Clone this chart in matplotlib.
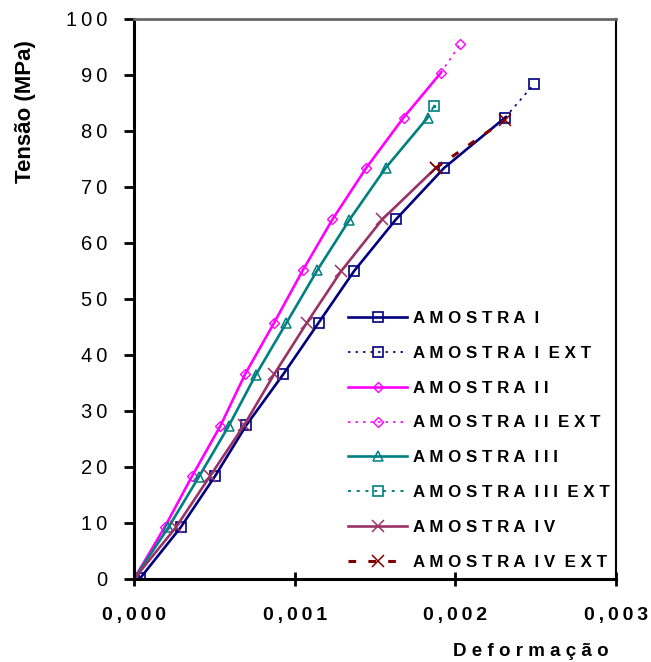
import matplotlib
matplotlib.use("Agg")
import matplotlib.pyplot as plt

plt.rcParams['font.family'] = ['Liberation Sans', 'DejaVu Sans']

# tensão (MPa) por amostra, deformação
am1_x = [0.0, 0.00004, 0.00029, 0.000505, 0.0007, 0.00093, 0.00115, 0.00137, 0.00163, 0.00193, 0.00231]
am1_y = [0.0, 0.2, 9.2, 18.4, 27.5, 36.6, 45.8, 55.0, 64.2, 73.4, 82.4]
am1_ext_x = [0.00231, 0.00249]
am1_ext_y = [82.4, 88.4]

am2_x = [0.0, 0.00019, 0.000362, 0.000537, 0.000692, 0.000873, 0.00105, 0.001235, 0.001445, 0.001678, 0.00191]
am2_y = [0.0, 9.2, 18.4, 27.3, 36.6, 45.8, 55.1, 64.2, 73.4, 82.4, 90.4]
am2_ext_x = [0.00191, 0.00203]
am2_ext_y = [90.4, 95.5]

am3_x = [0.0, 0.000214, 0.000405, 0.000589, 0.000757, 0.000948, 0.00114, 0.00134, 0.001566, 0.001828]
am3_y = [0.0, 9.2, 18.3, 27.3, 36.4, 45.7, 55.1, 64.1, 73.4, 82.4]
am3_ext_x = [0.001828, 0.001867]
am3_ext_y = [82.4, 84.5]

am4_x = [0.0, 0.00026, 0.000474, 0.000686, 0.000873, 0.001077, 0.00129, 0.001545, 0.001878]
am4_y = [0.0, 9.2, 18.4, 27.5, 36.6, 45.8, 55.0, 64.2, 73.4]
am4_ext_x = [0.001878, 0.00231]
am4_ext_y = [73.4, 82.0]

labels = ["AMOSTRA I", "AMOSTRA I EXT", "AMOSTRA II", "AMOSTRA II EXT",
          "AMOSTRA III", "AMOSTRA III EXT", "AMOSTRA IV", "AMOSTRA IV EXT"]
x_ticks = [0.0, 0.001, 0.002, 0.003]
x_tick_labels = ["0,000", "0,001", "0,002", "0,003"]
y_ticks = [0, 10, 20, 30, 40, 50, 60, 70, 80, 90, 100]


def spaced(s, sep=" "):
    # espaçamento entre letras, como no Excel
    return "  ".join(sep.join(w) for w in s.split(" "))


fig = plt.figure(figsize=(6.51, 6.62), dpi=100)
ax = fig.add_axes([134 / 651, 83 / 662, 482 / 651, 560 / 662])

navy = "#000080"
mag = "#FF00FF"
teal = "#008080"
mauve = "#993366"
dred = "#800000"

ax.plot(am1_x, am1_y, color=navy, lw=1.9, marker="s", ms=7, mfc="none", mec=navy, mew=1.2, label=spaced(labels[0]))
ax.plot(am1_ext_x, am1_ext_y, color=navy, lw=1.2, ls=(0, (1.5, 3)), marker="s", ms=7, mfc="none", mec=navy,
        mew=1.2, markevery=[1], label=spaced(labels[1]))
ax.plot(am2_x, am2_y, color=mag, lw=1.9, marker="D", ms=5.5, mfc="none", mec=mag, mew=1.0, label=spaced(labels[2]))
ax.plot(am2_ext_x, am2_ext_y, color=mag, lw=1.2, ls=(0, (1.5, 3)), marker="D", ms=5.5, mfc="none", mec=mag,
        mew=1.0, markevery=[1], label=spaced(labels[3]))
ax.plot(am3_x, am3_y, color=teal, lw=1.9, marker="^", ms=7, mfc="none", mec=teal, mew=1.1, label=spaced(labels[4]))
ax.plot(am3_ext_x, am3_ext_y, color=teal, lw=1.4, ls=(0, (1.5, 3)), marker="s", ms=7, mfc="none", mec=teal,
        mew=1.2, markevery=[1], label=spaced(labels[5]))
ax.plot(am3_ext_x[1:], am3_ext_y[1:], ls="none", marker=".", ms=3, color=teal)
ax.plot(am4_x, am4_y, color=mauve, lw=1.9, marker="x", ms=8, mec=mauve, mew=1.1, label=spaced(labels[6]))
ax.plot(am4_ext_x, am4_ext_y, color=dred, lw=2.2, ls=(0, (2.5, 4)), marker="x", ms=8, mec=dred, mew=1.1,
        label=spaced(labels[7]))

ax.set_xlim(0, 0.003)
ax.set_ylim(0, 100)
ax.set_xticks(x_ticks)
ax.set_xticklabels([spaced(t, "\u2009") for t in x_tick_labels], fontsize=14, fontweight="bold")
ax.set_yticks(y_ticks)
ax.set_yticklabels([spaced(str(t), "\u2009") for t in y_ticks], fontsize=14.5)
ax.tick_params(axis="x", direction="inout", length=10, width=2, pad=15)
ax.tick_params(axis="y", direction="out", length=7, width=2, pad=12)

for side in ["left", "bottom"]:
    ax.spines[side].set_linewidth(2.2)
    ax.spines[side].set_color("black")
ax.spines["top"].set_color("#666666")
ax.spines["top"].set_linewidth(2)
ax.spines["right"].set_color("black")
ax.spines["right"].set_linewidth(1.5)

fig.text(25 / 651, 1 - 112 / 662, "Tensão (MPa)", rotation=90, ha="center", va="center",
         fontsize=16, fontweight="bold")
fig.text(609 / 651, 1 - 652 / 662, spaced("Deformação"), ha="right", va="center",
         fontsize=13.5, fontweight="bold")

leg = ax.legend(loc="upper left", bbox_to_anchor=(348 / 651, 1 - 311 / 662), bbox_transform=fig.transFigure,
                frameon=False, prop={"weight": "bold", "size": 12.2}, handlelength=3.5, handletextpad=0.35,
                labelspacing=1.17, borderpad=0, borderaxespad=0)

fig.savefig("out.png", dpi=100)
